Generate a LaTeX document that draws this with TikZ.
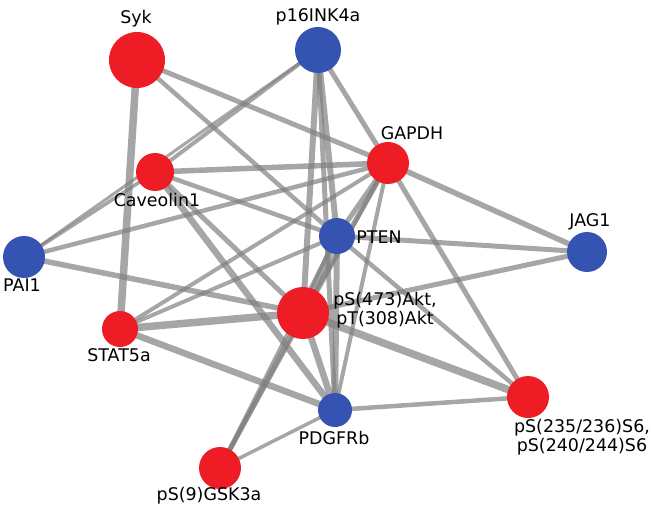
\documentclass[tikz,border=0pt]{standalone}
\usepackage{fontspec}
\setmainfont{DejaVu Sans}
\usepackage{xcolor}
\usepackage{tikz}
\usetikzlibrary{backgrounds}

\definecolor{nodered}{HTML}{EE1C24}
\definecolor{nodeblue}{HTML}{3553B0}

\begin{document}
\begin{tikzpicture}[
  x=1bp, y=-1bp,
  prot/.style={circle, fill=nodered, draw=none, inner sep=0pt},
  gene/.style={circle, fill=nodeblue, draw=none, inner sep=0pt},
  lab/.style={font=\fontsize{17.5}{19}\selectfont, align=center, inner sep=0pt},
  link/.style={draw=gray, draw opacity=0.7, line width=#1bp},
  link/.default=4,
]
  \useasboundingbox (0,0) rectangle (651,512);

  % Nodes
  \node[prot, minimum size=56bp] (syk) at (137,60) {};
  \node[gene, minimum size=46bp] (p16) at (318,50) {};
  \node[prot, minimum size=42bp] (gapdh) at (388,163) {};
  \node[prot, minimum size=38bp] (cav) at (155,172) {};
  \node[gene, minimum size=42bp] (pai) at (24,257) {};
  \node[gene, minimum size=36bp] (pten) at (337,236) {};
  \node[gene, minimum size=40bp] (jag) at (587,252) {};
  \node[prot, minimum size=52bp] (akt) at (303,313) {};
  \node[prot, minimum size=36bp] (stat) at (120,329) {};
  \node[gene, minimum size=34bp] (pdgfrb) at (335,410) {};
  \node[prot, minimum size=42bp] (s6) at (528,397) {};
  \node[prot, minimum size=42bp] (gsk) at (220,468) {};

  % Labels
  \node[lab] (sykl) at (136,19) {Syk};
  \node[lab] (p16l) at (318,17) {p16INK4a};
  \node[lab] (gapdhl) at (412,133) {GAPDH};
  \node[lab] (cavl) at (157,200) {Caveolin1};
  \node[lab] (pail) at (22,285) {PAI1};
  \node[lab] (ptenl) at (379,237) {PTEN};
  \node[lab] (jagl) at (590,222) {JAG1};
  \node[lab] (aktl) at (385,310) {pS(473)Akt,\\pT(308)Akt};
  \node[lab] (statl) at (119,355) {STAT5a};
  \node[lab] (pdgfrbl) at (334,438) {PDGFRb};
  \node[lab] (s6l) at (582,437) {pS(235/236)S6,\\pS(240/244)S6};
  \node[lab] (gskl) at (209,496) {pS(9)GSK3a};

  % Edges
  \begin{scope}[on background layer]
    \draw[link=7.5] (syk.center) -- (stat.center);
    \draw[link=5] (syk.center) -- (gapdh.center);
    \draw[link=4.5] (syk.center) -- (pten.center);
    \draw[link=4] (p16.center) -- (cav.center);
    \draw[link=3] (p16.center) -- (pai.center);
    \draw[link=5] (p16.center) -- (gapdh.center);
    \draw[link=6] (p16.center) -- (pten.center);
    \draw[link=6] (p16.center) -- (akt.center);
    \draw[link=5] (p16.center) -- (pdgfrb.center);
    \draw[link=5.5] (gapdh.center) -- (cav.center);
    \draw[link=4.5] (gapdh.center) -- (pai.center);
    \draw[link=4] (gapdh.center) -- (stat.center);
    \draw[link=5.5] (gapdh.center) -- (jag.center);
    \draw[link=5] (gapdh.center) -- (s6.center);
    \draw[link=5] (gapdh.center) -- (pten.center);
    \draw[link=5] (gapdh.center) -- (akt.center);
    \draw[link=4] (gapdh.center) -- (pdgfrb.center);
    \draw[link=4] (gapdh.center) -- (gsk.center);
    \draw[link=3.5] (cav.center) -- (pai.center);
    \draw[link=4.5] (cav.center) -- (pten.center);
    \draw[link=5] (cav.center) -- (akt.center);
    \draw[link=6.5] (cav.center) -- (pdgfrb.center);
    \draw[link=5.5] (pai.center) -- (akt.center);
    \draw[link=5] (pten.center) -- (jag.center);
    \draw[link=4] (pten.center) -- (stat.center);
    \draw[link=7] (pten.center) -- (akt.center);
    \draw[link=6] (pten.center) -- (pdgfrb.center);
    \draw[link=4.5] (pten.center) -- (s6.center);
    \draw[link=4] (pten.center) -- (gsk.center);
    \draw[link=7.5] (stat.center) -- (akt.center);
    \draw[link=6.5] (stat.center) -- (pdgfrb.center);
    \draw[link=6.5] (akt.center) -- (pdgfrb.center);
    \draw[link=7.5] (akt.center) -- (s6.center);
    \draw[link=5] (akt.center) -- (jag.center);
    \draw[link=5] (akt.center) -- (gsk.center);
    \draw[link=4.5] (pdgfrb.center) -- (s6.center);
    \draw[link=3.5] (pdgfrb.center) -- (gsk.center);
  \end{scope}
\end{tikzpicture}
\end{document}
